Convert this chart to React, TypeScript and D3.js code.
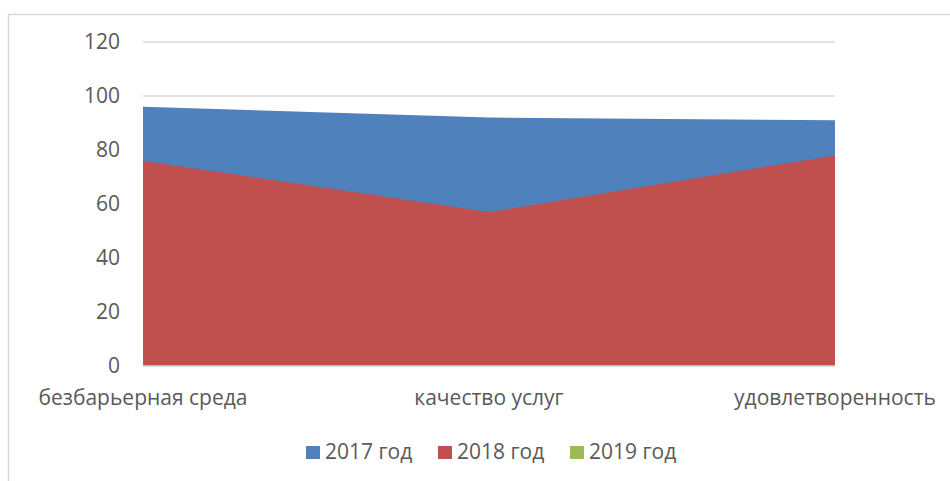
import React from "react";
import * as d3 from "d3";

const categories = ["безбарьерная среда", "качество услуг", "удовлетворенность"];
const series2017 = [96, 92, 91];
const series2018 = [76, 57, 78];
const series2019 = [0, 0, 0];
const yTicks = [0, 20, 40, 60, 80, 100, 120];
const seriesNames = ["2017 год", "2018 год", "2019 год"];
const seriesColors = ["#4F81BD", "#C0504D", "#9BBB59"];

const W = 950;
const H = 481;
const FONT = "'Open Sans', 'Noto Sans', sans-serif";

export default function App() {
  const x = d3.scalePoint<string>().domain(categories).range([143, 835]);
  const y = d3.scaleLinear().domain([0, 120]).range([366, 42]);
  const area = d3
    .area<number>()
    .x((_, i) => x(categories[i]) as number)
    .y0(y(0))
    .y1((d) => y(d));
  const allSeries = [series2017, series2018, series2019];
  const legendX = [306, 438, 570];

  return (
    <svg
      width={W}
      height={H}
      style={{ position: "absolute", left: 0, top: 0, background: "#fff" }}
      fontFamily={FONT}
    >
      <rect x={8.5} y={14.5} width={980} height={500} fill="#fff" stroke="#d9d9d9" strokeWidth={1.5} />
      {yTicks.map((t) => (
        <line key={t} x1={143} x2={835} y1={y(t)} y2={y(t)} stroke="#d9d9d9" strokeWidth={1.5} />
      ))}
      {allSeries.map((s, i) => (
        <path key={i} d={area(s) || ""} fill={seriesColors[i]} />
      ))}
      <line x1={143} x2={835} y1={y(0)} y2={y(0)} stroke="#d9d9d9" strokeWidth={1.5} />
      {yTicks.map((t) => (
        <text key={t} x={120} y={y(t)} dy="0.35em" textAnchor="end" fontSize={21} fill="#595959">
          {t}
        </text>
      ))}
      {categories.map((c) => (
        <text key={c} x={x(c)} y={398} dy="0.35em" textAnchor="middle" fontSize={21} fill="#595959">
          {c}
        </text>
      ))}
      {seriesNames.map((n, i) => (
        <g key={n}>
          <rect x={legendX[i]} y={446} width={14} height={13} fill={seriesColors[i]} />
          <text x={legendX[i] + 19} y={452} dy="0.35em" fontSize={21} fill="#595959">
            {n}
          </text>
        </g>
      ))}
    </svg>
  );
}
